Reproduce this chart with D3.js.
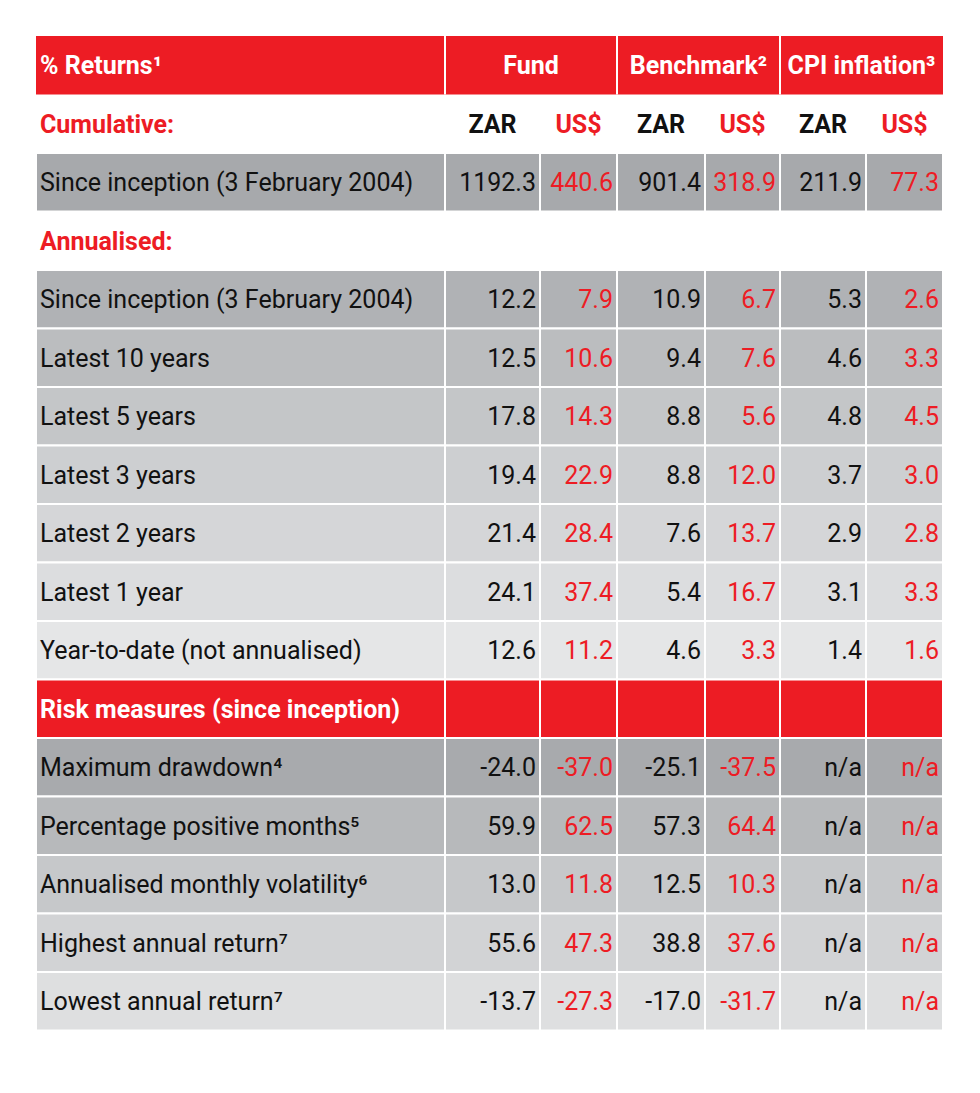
<!DOCTYPE html>
<html><head><meta charset="utf-8">
<script src="https://cdn.jsdelivr.net/npm/d3@7"></script>
<style>body{margin:0;background:#fff}text{font-family:Roboto,sans-serif}</style>
</head><body><svg id="chart" width="980" height="1093"></svg>
<script>
var colHeads = ['Fund', 'Benchmark²', 'CPI inflation³'];
var subHeads = ['ZAR', 'US$', 'ZAR', 'US$', 'ZAR', 'US$'];
var cumLabels = ['Since inception (3 February 2004)'];
var cumValues = [['1192.3', '440.6', '901.4', '318.9', '211.9', '77.3']];
var annLabels = ['Since inception (3 February 2004)', 'Latest 10 years', 'Latest 5 years', 'Latest 3 years', 'Latest 2 years', 'Latest 1 year', 'Year-to-date (not annualised)'];
var annValues = [
    ['12.2', '7.9', '10.9', '6.7', '5.3', '2.6'],
    ['12.5', '10.6', '9.4', '7.6', '4.6', '3.3'],
    ['17.8', '14.3', '8.8', '5.6', '4.8', '4.5'],
    ['19.4', '22.9', '8.8', '12.0', '3.7', '3.0'],
    ['21.4', '28.4', '7.6', '13.7', '2.9', '2.8'],
    ['24.1', '37.4', '5.4', '16.7', '3.1', '3.3'],
    ['12.6', '11.2', '4.6', '3.3', '1.4', '1.6']
];
var riskLabels = ['Maximum drawdown⁴', 'Percentage positive months⁵', 'Annualised monthly volatility⁶', 'Highest annual return⁷', 'Lowest annual return⁷'];
var riskValues = [
    ['-24.0', '-37.0', '-25.1', '-37.5', 'n/a', 'n/a'],
    ['59.9', '62.5', '57.3', '64.4', 'n/a', 'n/a'],
    ['13.0', '11.8', '12.5', '10.3', 'n/a', 'n/a'],
    ['55.6', '47.3', '38.8', '37.6', 'n/a', 'n/a'],
    ['-13.7', '-27.3', '-17.0', '-31.7', 'n/a', 'n/a']
];
var annShades = ['#b0b2b5', '#bbbdbf', '#c4c6c8', '#cdcfd1', '#d5d6d8', '#dcdddf', '#e5e6e7'];
var riskShades = ['#a8aaad', '#b7b9bb', '#c6c8ca', '#d2d3d5', '#dedfe0'];

var RED = '#ed1c24';
var svg = d3.select('#chart');
var colEdges = [36, 445, 540, 617, 705, 780, 866, 943];
var rowH = 58.5, top0 = 36;
var y = function (i) { return top0 + i * rowH; };

function cellRects(row, fill) {
    for (var c = 0; c < 7; c++) {
        svg.append('rect').attr('x', colEdges[c]).attr('y', y(row))
            .attr('width', colEdges[c + 1] - colEdges[c]).attr('height', rowH)
            .attr('fill', fill).attr('stroke', '#fff').attr('stroke-width', 2);
    }
}
function txt(x, row, s, opts) {
    return svg.append('text').attr('x', x).attr('y', y(row) + rowH / 2 + 9)
        .attr('font-size', 25).attr('text-anchor', opts.anchor || 'start')
        .attr('font-weight', opts.bold ? 700 : 400)
        .attr('fill', opts.fill || '#111').text(s);
}
function dataRow(row, label, vals, fill) {
    cellRects(row, fill);
    txt(40, row, label, {});
    vals.forEach(function (v, i) {
        txt(colEdges[i + 2] - 4, row, v, { anchor: 'end', fill: i % 2 ? RED : '#111' });
    });
}

// header
svg.append('rect').attr('x', 36).attr('y', y(0)).attr('width', 907).attr('height', rowH).attr('fill', RED);
[445, 617, 780].forEach(function (x) {
    svg.append('line').attr('x1', x).attr('x2', x).attr('y1', y(0)).attr('y2', y(1)).attr('stroke', '#fff').attr('stroke-width', 2);
});
txt(40, 0, '% Returns¹', { bold: true, fill: '#fff' });
colHeads.forEach(function (h, i) {
    txt((colEdges[1 + 2 * i] + colEdges[3 + 2 * i]) / 2, 0, h, { bold: true, fill: '#fff', anchor: 'middle' });
});
txt(40, 1, 'Cumulative:', { bold: true, fill: RED });
subHeads.forEach(function (h, i) {
    txt((colEdges[i + 1] + colEdges[i + 2]) / 2, 1, h, { bold: true, fill: i % 2 ? RED : '#111', anchor: 'middle' });
});
cumLabels.forEach(function (l, i) { dataRow(2 + i, l, cumValues[i], '#a7a9ac'); });
txt(40, 3, 'Annualised:', { bold: true, fill: RED });
annLabels.forEach(function (l, i) { dataRow(4 + i, l, annValues[i], annShades[i]); });
cellRects(11, RED);
txt(40, 11, 'Risk measures (since inception)', { bold: true, fill: '#fff' });
riskLabels.forEach(function (l, i) { dataRow(12 + i, l, riskValues[i], riskShades[i]); });
</script></body></html>
